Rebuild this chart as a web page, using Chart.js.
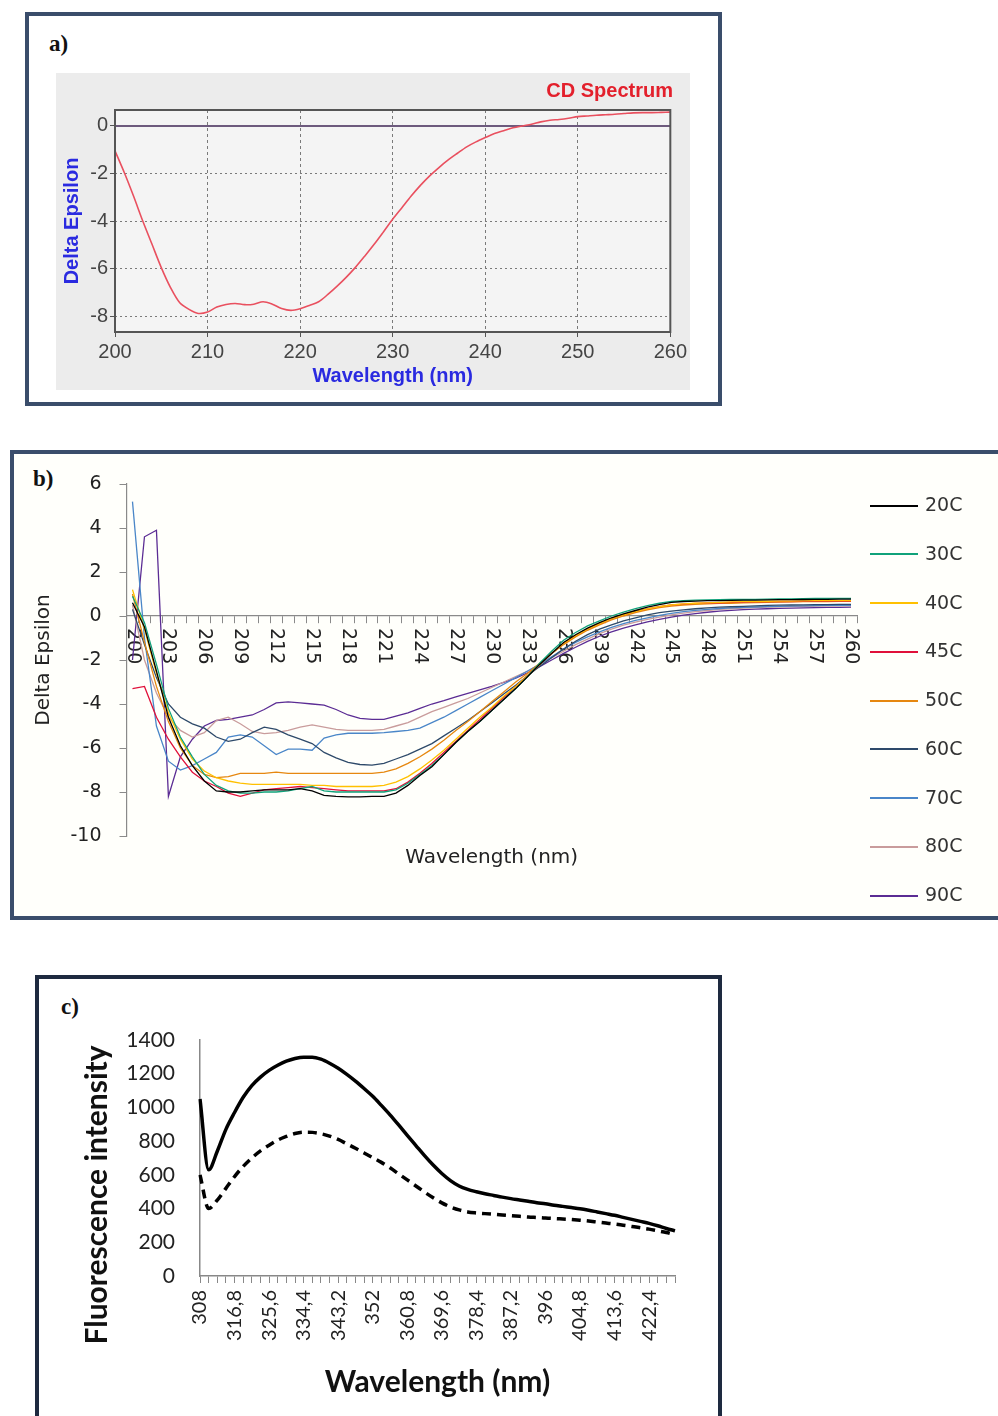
<!DOCTYPE html>
<html>
<head>
<meta charset="utf-8">
<script src="https://cdn.jsdelivr.net/npm/chart.js@4.4.1/dist/chart.umd.min.js"></script>
<style>
  body { margin: 0; background: #fff; width: 998px; height: 1416px; position: relative; overflow: hidden; }
  .box { position: absolute; box-sizing: border-box; border: 4px solid #3a4d6b; }
  #boxA { left: 25px; top: 12px; width: 697px; height: 394px; }
  #boxB { left: 10px; top: 450px; width: 1000px; height: 470px; background: #fffffb; }
  #boxC { left: 35px; top: 975px; width: 687px; height: 460px; border-color: #1e2a40; }
  #panelA { position: absolute; left: 56px; top: 73px; width: 634px; height: 317px; background: #ececec; }
  .tag { position: absolute; font: bold 23px "Liberation Serif", serif; color: #111; }
  canvas { position: absolute; }
  #legendB { position: absolute; left: 870px; top: 0; }
  #legendB div { position: absolute; left: 0; white-space: nowrap; font: 19px "DejaVu Sans", sans-serif; color: #333; height: 24px; line-height: 24px; }
  #legendB span { display: inline-block; width: 48px; height: 2px; vertical-align: middle; margin-right: 7px; }
</style>
</head>
<body>
<div class="box" id="boxA"></div>
<div class="box" id="boxB"></div>
<div class="box" id="boxC"></div>
<div id="panelA"></div>
<div class="tag" style="left:49px; top:31px;">a)</div>
<div class="tag" style="left:33px; top:466px;">b)</div>
<div class="tag" style="left:61px; top:994px;">c)</div>
<canvas id="chartA" width="634" height="317" style="left:56px; top:73px;"></canvas>
<canvas id="chartB" width="984" height="462" style="left:14px; top:454px;"></canvas>
<canvas id="chartC" width="679" height="437" style="left:39px; top:979px;"></canvas>
<div id="legendB"></div>
<script>
// ---- panel a: CD spectrum ----
const cdWavelength = [200, 201, 202, 203, 204, 205, 206, 207, 208, 209,
  210, 211, 212, 213, 214, 215, 216, 217, 218, 219,
  220, 221, 222, 223, 224, 225, 226, 227, 228, 229,
  230, 231, 232, 233, 234, 235, 236, 237, 238, 239,
  240, 241, 242, 243, 244, 245, 246, 247, 248, 249,
  250, 251, 252, 253, 254, 255, 256, 257, 258, 259, 260];
const cdDelta = [-1.05, -1.96, -2.95, -4.0, -4.98, -5.96, -6.8, -7.44, -7.72, -7.89,
  -7.83, -7.62, -7.51, -7.47, -7.52, -7.5, -7.4, -7.5, -7.68, -7.76,
  -7.69, -7.55, -7.4, -7.09, -6.74, -6.36, -5.94, -5.47, -4.98, -4.46,
  -3.93, -3.44, -2.95, -2.5, -2.1, -1.75, -1.43, -1.15, -0.88, -0.67,
  -0.49, -0.32, -0.2, -0.08, 0.0, 0.07, 0.17, 0.24, 0.27, 0.32,
  0.39, 0.42, 0.45, 0.47, 0.49, 0.52, 0.55, 0.56, 0.56, 0.57, 0.58];

// ---- panel b: CD spectra at several temperatures ----
const tempWavelength = [200, 201, 202, 203, 204, 205, 206, 207, 208, 209,
  210, 211, 212, 213, 214, 215, 216, 217, 218, 219,
  220, 221, 222, 223, 224, 225, 226, 227, 228, 229,
  230, 231, 232, 233, 234, 235, 236, 237, 238, 239,
  240, 241, 242, 243, 244, 245, 246, 247, 248, 249,
  250, 251, 252, 253, 254, 255, 256, 257, 258, 259, 260];
const tempNames = ['20C', '30C', '40C', '45C', '50C', '60C', '70C', '80C', '90C'];
const tempColors = ['#000000', '#10a27a', '#ffc000', '#e0103a', '#e6870f', '#2e4a6a', '#4a86c8', '#c99c9c', '#5b2c94'];
const t20 = [0.6, -0.5, -2.5, -4.6, -5.9, -6.8, -7.5, -7.95, -8.0, -8.0,
  -7.95, -7.9, -7.9, -7.9, -7.85, -7.95, -8.15, -8.2, -8.22, -8.22,
  -8.2, -8.2, -8.05, -7.7, -7.25, -6.85, -6.3, -5.75, -5.25, -4.8,
  -4.3, -3.8, -3.3, -2.75, -2.2, -1.7, -1.2, -0.85, -0.55, -0.3,
  -0.08, 0.1, 0.25, 0.4, 0.52, 0.62, 0.66, 0.68, 0.7, 0.7,
  0.71, 0.72, 0.72, 0.73, 0.74, 0.74, 0.75, 0.76, 0.76, 0.77, 0.77];
const t30 = [0.9, -0.3, -2.2, -4.2, -5.5, -6.4, -7.2, -7.7, -7.95, -8.05,
  -8.05, -8.0, -8.0, -7.95, -7.85, -7.75, -7.95, -8.0, -8.0, -8.0,
  -8.0, -8.0, -7.9, -7.6, -7.2, -6.8, -6.3, -5.75, -5.25, -4.8,
  -4.3, -3.8, -3.3, -2.75, -2.15, -1.6, -1.1, -0.75, -0.45, -0.22,
  0.0, 0.18, 0.33, 0.47, 0.58, 0.66, 0.7, 0.72, 0.73, 0.74,
  0.75, 0.75, 0.76, 0.77, 0.78, 0.78, 0.79, 0.8, 0.8, 0.8, 0.8];
const t40 = [1.2, -0.6, -2.6, -4.4, -5.6, -6.5, -7.05, -7.35, -7.5, -7.6,
  -7.65, -7.65, -7.65, -7.65, -7.65, -7.7, -7.7, -7.75, -7.75, -7.75,
  -7.75, -7.7, -7.55, -7.3, -6.95, -6.55, -6.1, -5.6, -5.1, -4.6,
  -4.15, -3.65, -3.2, -2.7, -2.2, -1.7, -1.25, -0.9, -0.6, -0.35,
  -0.12, 0.05, 0.2, 0.32, 0.42, 0.5, 0.55, 0.58, 0.6, 0.62,
  0.64, 0.65, 0.66, 0.67, 0.68, 0.68, 0.69, 0.7, 0.7, 0.7, 0.7];
const t45 = [-3.3, -3.2, -4.6, -5.6, -6.4, -7.1, -7.5, -7.75, -8.05, -8.2,
  -8.05, -7.9, -7.85, -7.8, -7.75, -7.8, -7.85, -7.9, -7.95, -7.95,
  -7.95, -7.95, -7.85, -7.55, -7.15, -6.7, -6.2, -5.7, -5.2, -4.7,
  -4.2, -3.7, -3.2, -2.7, -2.2, -1.7, -1.25, -0.9, -0.6, -0.35,
  -0.12, 0.05, 0.2, 0.32, 0.42, 0.5, 0.54, 0.57, 0.59, 0.6,
  0.62, 0.63, 0.64, 0.65, 0.66, 0.66, 0.67, 0.68, 0.68, 0.68, 0.68];
const t50 = [1.0, -1.2, -3.2, -4.8, -6.0, -6.8, -7.2, -7.35, -7.3, -7.15,
  -7.15, -7.15, -7.1, -7.15, -7.15, -7.15, -7.15, -7.15, -7.15, -7.15,
  -7.15, -7.1, -6.95, -6.7, -6.4, -6.05, -5.65, -5.2, -4.8, -4.35,
  -3.9, -3.45, -3.0, -2.6, -2.15, -1.7, -1.3, -0.95, -0.65, -0.4,
  -0.18, 0.0, 0.15, 0.28, 0.38, 0.45, 0.5, 0.53, 0.55, 0.57,
  0.58, 0.6, 0.61, 0.62, 0.63, 0.64, 0.65, 0.66, 0.66, 0.67, 0.67];
const t60 = [0.3, -1.3, -2.8, -4.0, -4.6, -4.9, -5.1, -5.5, -5.7, -5.6,
  -5.3, -5.05, -5.15, -5.4, -5.6, -5.8, -6.2, -6.45, -6.65, -6.75,
  -6.78, -6.7, -6.5, -6.3, -6.05, -5.8, -5.45, -5.1, -4.75, -4.35,
  -3.95, -3.55, -3.15, -2.7, -2.3, -1.9, -1.5, -1.15, -0.85, -0.6,
  -0.4, -0.22, -0.08, 0.05, 0.15, 0.22, 0.28, 0.33, 0.37, 0.4,
  0.42, 0.44, 0.46, 0.48, 0.49, 0.5, 0.51, 0.52, 0.52, 0.53, 0.53];
const t70 = [5.2, -1.0, -5.0, -6.6, -7.0, -6.8, -6.5, -6.2, -5.5, -5.4,
  -5.5, -5.9, -6.3, -6.05, -6.05, -6.1, -5.55, -5.4, -5.33, -5.33,
  -5.33, -5.3, -5.25, -5.2, -5.1, -4.85, -4.6, -4.3, -4.0, -3.7,
  -3.4, -3.1, -2.8, -2.5, -2.2, -1.85, -1.5, -1.2, -0.95, -0.72,
  -0.52, -0.35, -0.2, -0.08, 0.03, 0.12, 0.2, 0.26, 0.3, 0.34,
  0.37, 0.39, 0.41, 0.43, 0.44, 0.45, 0.46, 0.47, 0.48, 0.48, 0.48];
const t80 = [0.5, -2.0, -3.5, -4.6, -5.2, -5.5, -5.3, -4.75, -4.6, -4.9,
  -5.25, -5.35, -5.3, -5.2, -5.05, -4.95, -5.05, -5.15, -5.2, -5.2,
  -5.2, -5.15, -5.0, -4.85, -4.6, -4.35, -4.15, -3.95, -3.75, -3.5,
  -3.25, -3.0, -2.75, -2.5, -2.2, -1.9, -1.6, -1.3, -1.05, -0.8,
  -0.6, -0.42, -0.28, -0.15, -0.05, 0.05, 0.13, 0.2, 0.25, 0.3,
  0.33, 0.36, 0.38, 0.4, 0.42, 0.43, 0.44, 0.45, 0.46, 0.46, 0.46];
const t90 = [-2.0, 3.6, 3.9, -8.2, -6.4, -5.6, -5.0, -4.75, -4.7, -4.6,
  -4.5, -4.25, -3.95, -3.9, -3.95, -4.0, -4.05, -4.25, -4.5, -4.65,
  -4.7, -4.7, -4.55, -4.4, -4.2, -4.0, -3.85, -3.68, -3.52, -3.36,
  -3.2, -3.02, -2.82, -2.58, -2.3, -2.0, -1.7, -1.42, -1.15, -0.92,
  -0.72, -0.55, -0.4, -0.27, -0.15, -0.05, 0.04, 0.11, 0.17, 0.22,
  0.26, 0.29, 0.31, 0.33, 0.35, 0.36, 0.37, 0.38, 0.39, 0.39, 0.4];
const tempSeries = [t20, t30, t40, t45, t50, t60, t70, t80, t90];

// ---- panel c: fluorescence ----
const flWavelength = [308, 310.2, 312.4, 314.6, 316.8, 319, 321.2, 323.4, 325.6, 327.8,
  330, 332.2, 334.4, 336.6, 338.8, 341, 343.2, 345.4, 347.6, 349.8,
  352, 354.2, 356.4, 358.6, 360.8, 363, 365.2, 367.4, 369.6, 371.8,
  374, 376.2, 378.4, 380.6, 382.8, 385, 387.2, 389.4, 391.6, 393.8,
  396, 398.2, 400.4, 402.6, 404.8, 407, 409.2, 411.4, 413.6, 415.8,
  418, 420.2, 422.4, 424.6, 426.8, 429];
const flSolid = [1050, 630, 740, 870, 970, 1060, 1130, 1180, 1220, 1250,
  1274, 1290, 1298, 1298, 1286, 1262, 1232, 1196, 1156, 1112,
  1066, 1012, 956, 896, 834, 774, 714, 658, 608, 566,
  534, 514, 500, 488, 478, 468, 459, 451, 443, 435,
  428, 420, 413, 406, 399, 390, 380, 370, 360, 348,
  336, 324, 312, 298, 282, 268];
const flDashed = [600, 400, 450, 520, 590, 650, 700, 742, 776, 806,
  828, 845, 853, 852, 844, 830, 810, 784, 758, 730,
  702, 674, 642, 606, 570, 534, 498, 464, 434, 410,
  392, 380, 374, 370, 366, 362, 358, 354, 350, 347,
  344, 341, 338, 335, 331, 326, 320, 314, 308, 301,
  294, 286, 278, 268, 258, 245];

Chart.defaults.animation = false;
Chart.defaults.responsive = false;
Chart.defaults.plugins.legend.display = false;
Chart.defaults.plugins.tooltip.enabled = false;

// chart A
const plotFrame = {
  id: 'plotFrame',
  beforeDraw(chart) {
    const a = chart.chartArea, ctx = chart.ctx;
    ctx.save();
    ctx.fillStyle = '#f4f4f4';
    ctx.fillRect(a.left, a.top, a.right - a.left, a.bottom - a.top);
    ctx.restore();
  },
  afterDraw(chart) {
    const a = chart.chartArea, ctx = chart.ctx;
    ctx.save();
    ctx.strokeStyle = '#555';
    ctx.lineWidth = 2;
    ctx.strokeRect(a.left, a.top, a.right - a.left, a.bottom - a.top);
    ctx.restore();
  }
};

new Chart(document.getElementById('chartA'), {
  type: 'line',
  data: {
    datasets: [{
      label: 'CD Spectrum',
      data: cdWavelength.map((w, i) => ({x: w, y: cdDelta[i]})),
      borderColor: '#e9505f',
      borderWidth: 1.6,
      pointRadius: 0,
      tension: 0.3,
      order: 0
    }, {
      label: 'zero',
      data: [{x: 200, y: 0}, {x: 260, y: 0}],
      borderColor: '#6d5a7d',
      borderWidth: 2,
      pointRadius: 0,
      order: 1
    }]
  },
  options: {
    layout: {padding: {left: 0, right: 17, top: 0, bottom: 0}},
    plugins: {
      title: {
        display: true, text: 'CD Spectrum', align: 'end', color: '#e3202c',
        font: {family: 'Liberation Sans', size: 20, weight: 'bold'},
        padding: {top: 6, bottom: 7}
      }
    },
    scales: {
      x: {
        type: 'linear', min: 200, max: 260,
        afterFit(s) { s.height = 58; },
        ticks: {stepSize: 10, color: '#444', padding: 3, font: {family: 'Liberation Sans', size: 20}},
        grid: {color: '#7a7a7a', tickColor: '#555', tickLength: 5, tickBorderDash: []},
        border: {display: false, dash: [3, 3]},
        title: {display: true, text: 'Wavelength (nm)', color: '#2a2ae0',
          font: {family: 'Liberation Sans', size: 20, weight: 'bold'}, padding: {top: 0, bottom: 2}}
      },
      y: {
        min: -8.67, max: 0.67,
        afterFit(s) { s.width = 59; },
        ticks: {stepSize: 2, includeBounds: false, color: '#444', padding: 2, font: {family: 'Liberation Sans', size: 20}},
        grid: {color: '#7a7a7a', tickColor: '#555', tickLength: 5, tickBorderDash: []},
        border: {display: false, dash: [2, 3]},
        title: {display: true, text: 'Delta Epsilon', color: '#2a2ae0',
          font: {family: 'Liberation Sans', size: 20, weight: 'bold'}, padding: {top: 4, bottom: 0}}
      }
    }
  },
  plugins: [plotFrame]
});

// chart B
const bAxisText = {
  id: 'bAxisText',
  beforeDatasetsDraw(chart) {
    const xs = chart.scales.x, ys = chart.scales.y, ctx = chart.ctx;
    const y0 = ys.getPixelForValue(0);
    ctx.save();
    ctx.fillStyle = '#222';
    ctx.font = '19px "DejaVu Sans"';
    ctx.textAlign = 'left';
    ctx.textBaseline = 'middle';
    tempWavelength.forEach((w, i) => {
      if (i % 3) return;
      ctx.save();
      ctx.translate(xs.getPixelForValue(i), y0 + 12);
      ctx.rotate(Math.PI / 2);
      ctx.fillText(String(w), 0, 0);
      ctx.restore();
    });
    ctx.font = '20px "DejaVu Sans"';
    ctx.textAlign = 'center';
    ctx.fillText('Wavelength (nm)', (chart.chartArea.left + chart.chartArea.right) / 2, 404);
    ctx.restore();
  }
};

new Chart(document.getElementById('chartB'), {
  type: 'line',
  data: {
    labels: tempWavelength,
    datasets: tempSeries.map((s, i) => ({
      label: tempNames[i],
      data: s,
      borderColor: tempColors[i],
      borderWidth: 1.3,
      pointRadius: 0,
      tension: 0
    }))
  },
  options: {
    layout: {padding: {left: 0, right: 141, top: 30, bottom: 80}},
    scales: {
      x: {
        type: 'category', offset: true, position: {y: 0},
        ticks: {display: false},
        grid: {drawOnChartArea: false, offset: true, tickLength: 7, tickColor: '#8a8a8a'},
        border: {color: '#8a8a8a', width: 1.2}
      },
      y: {
        min: -10, max: 6,
        afterFit(s) { s.width = 112.5; },
        ticks: {stepSize: 2, color: '#222', padding: 18, font: {family: 'DejaVu Sans', size: 19}},
        grid: {drawOnChartArea: false, tickLength: 7, tickColor: '#8a8a8a'},
        border: {color: '#8a8a8a', width: 1.2},
        title: {display: true, text: 'Delta Epsilon', color: '#222',
          font: {family: 'DejaVu Sans', size: 20}, padding: {top: 18, bottom: 0}}
      }
    }
  },
  plugins: [bAxisText]
});

// legend for B, built from the same names and colours
const legendB = document.getElementById('legendB');
tempNames.forEach((n, i) => {
  const row = document.createElement('div');
  row.style.top = (492 + i * 48.75) + 'px';
  row.innerHTML = '<span style="background:' + tempColors[i] + '"></span>' + n;
  legendB.appendChild(row);
});

// chart C
const cYTitle = {
  id: 'cYTitle',
  afterDraw(chart) {
    const ctx = chart.ctx;
    ctx.save();
    ctx.translate(58, 216);
    ctx.rotate(-Math.PI / 2);
    ctx.font = 'bold 30px Lato';
    ctx.fillStyle = '#111';
    ctx.textAlign = 'center';
    ctx.textBaseline = 'middle';
    ctx.fillText('Fluorescence intensity', 0, 0);
    ctx.restore();
  }
};

new Chart(document.getElementById('chartC'), {
  type: 'line',
  data: {
    labels: flWavelength,
    datasets: [{
      label: 'solid',
      data: flSolid,
      borderColor: '#000',
      borderWidth: 3.5,
      pointRadius: 0,
      cubicInterpolationMode: 'monotone'
    }, {
      label: 'dashed',
      data: flDashed,
      borderColor: '#000',
      borderWidth: 3.5,
      borderDash: [9, 6],
      pointRadius: 0,
      cubicInterpolationMode: 'monotone'
    }]
  },
  options: {
    layout: {padding: {left: 0, right: 43, top: 61, bottom: 0}},
    scales: {
      x: {
        type: 'category', offset: false,
        afterFit(s) { s.height = 140; },
        ticks: {
          autoSkip: false, minRotation: 90, maxRotation: 90, padding: 7, color: '#222',
          font: {family: 'Lato', size: 20},
          callback(v, i) { return i % 4 === 0 ? String(this.getLabelForValue(v)).replace('.', ',') : ''; }
        },
        grid: {drawOnChartArea: false, tickLength: 7, tickColor: '#888'},
        border: {color: '#888', width: 1.5},
        title: {display: true, text: 'Wavelength (nm)', color: '#111',
          font: {family: 'Lato', size: 30, weight: 'bold'}, padding: {top: 0, bottom: 16}}
      },
      y: {
        min: 0, max: 1400,
        afterFit(s) { s.width = 161; },
        ticks: {stepSize: 200, color: '#222', padding: 25, font: {family: 'Lato', size: 21},
          callback(v) { return String(v); }},
        grid: {display: false, drawTicks: false},
        border: {color: '#888', width: 1.5}
      }
    }
  },
  plugins: [cYTitle]
});
</script>
</body>
</html>
